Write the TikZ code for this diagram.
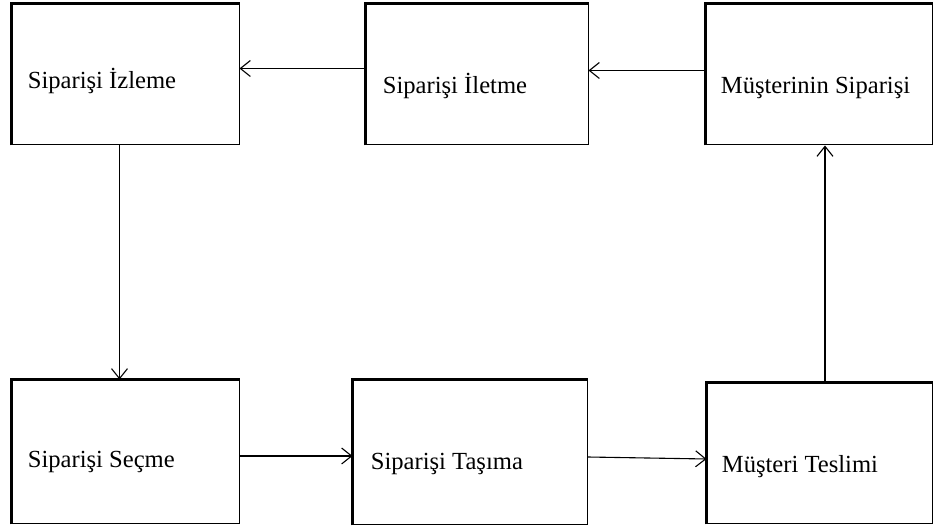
\documentclass[tikz,border=0pt]{standalone}
\usepackage{fontspec}
\setmainfont{Liberation Serif}
\usetikzlibrary{arrows.meta}

\begin{document}
\begin{tikzpicture}[x=0.5pt, y=-0.5pt,
  box/.style={rectangle, draw, line width=0.5pt, inner sep=0pt, minimum height=70.5pt},
  edge/.style={line width=1.1pt},
  lbl/.style={anchor=base west, inner sep=0pt, font=\fontsize{12.3}{14}\selectfont},
  arrow/.style={-{Straight Barb[length=5pt, width=8pt]}, line width=0.55pt}
]
\useasboundingbox (0,0) rectangle (934,529);
% upper row
\node[box, minimum width=113.5pt] (izleme)  at (125.5,74.5) {};
\node[box, minimum width=111pt]   (iletme)  at (477,74.5)   {};
\node[box, minimum width=113pt]   (musteri) at (819,74.5)   {};
% lower row
\node[box, minimum width=113.5pt, minimum height=72pt]   (secme)  at (125.5,452) {};
\node[box, minimum width=117pt,   minimum height=72.5pt] (tasima) at (470,452.5) {};
\node[box, minimum width=112.5pt]                        (teslim) at (819.5,453.5) {};
% heavier left and top edges
\foreach \n in {izleme,iletme,musteri,secme,tasima,teslim}
  \draw[edge] (\n.south west) |- (\n.north east);
% texts
\node[lbl] (izlemetxt)  at ([xshift=8pt,yshift=-7pt]izleme.west)     {Siparişi İzleme};
\node[lbl] (iletmetxt)  at ([xshift=8.5pt,yshift=-9.75pt]iletme.west) {Siparişi İletme};
\node[lbl] (musteritxt) at ([xshift=7.5pt,yshift=-9.75pt]musteri.west) {Müşterinin Siparişi};
\node[lbl] (secmetxt)   at ([xshift=8pt,yshift=-7.85pt]secme.west)    {Siparişi Seçme};
\node[lbl] (tasimatxt)  at ([xshift=9pt,yshift=-8.5pt]tasima.west)    {Siparişi Taşıma};
\node[lbl] (teslimtxt)  at ([xshift=7.5pt,yshift=-9.6pt]teslim.west)  {Müşteri Teslimi};
% flow
\draw[arrow] ([yshift=3pt]iletme.west)   -- ([yshift=3pt]izleme.east);
\draw[arrow] ([yshift=2pt]musteri.west)  -- ([yshift=2pt]iletme.east);
\draw[arrow] ([xshift=-3pt]izleme.south) -- ([xshift=-3pt]secme.north);
\draw[arrow] ([yshift=-2pt]secme.east)   -- ([yshift=-1.75pt]tasima.west);
\draw[arrow] ([yshift=-2.25pt]tasima.east) -- ([yshift=-2.75pt]teslim.west);
\draw[arrow] ([xshift=2.75pt]teslim.north) -- ([xshift=3pt]musteri.south);
\end{tikzpicture}
\end{document}
